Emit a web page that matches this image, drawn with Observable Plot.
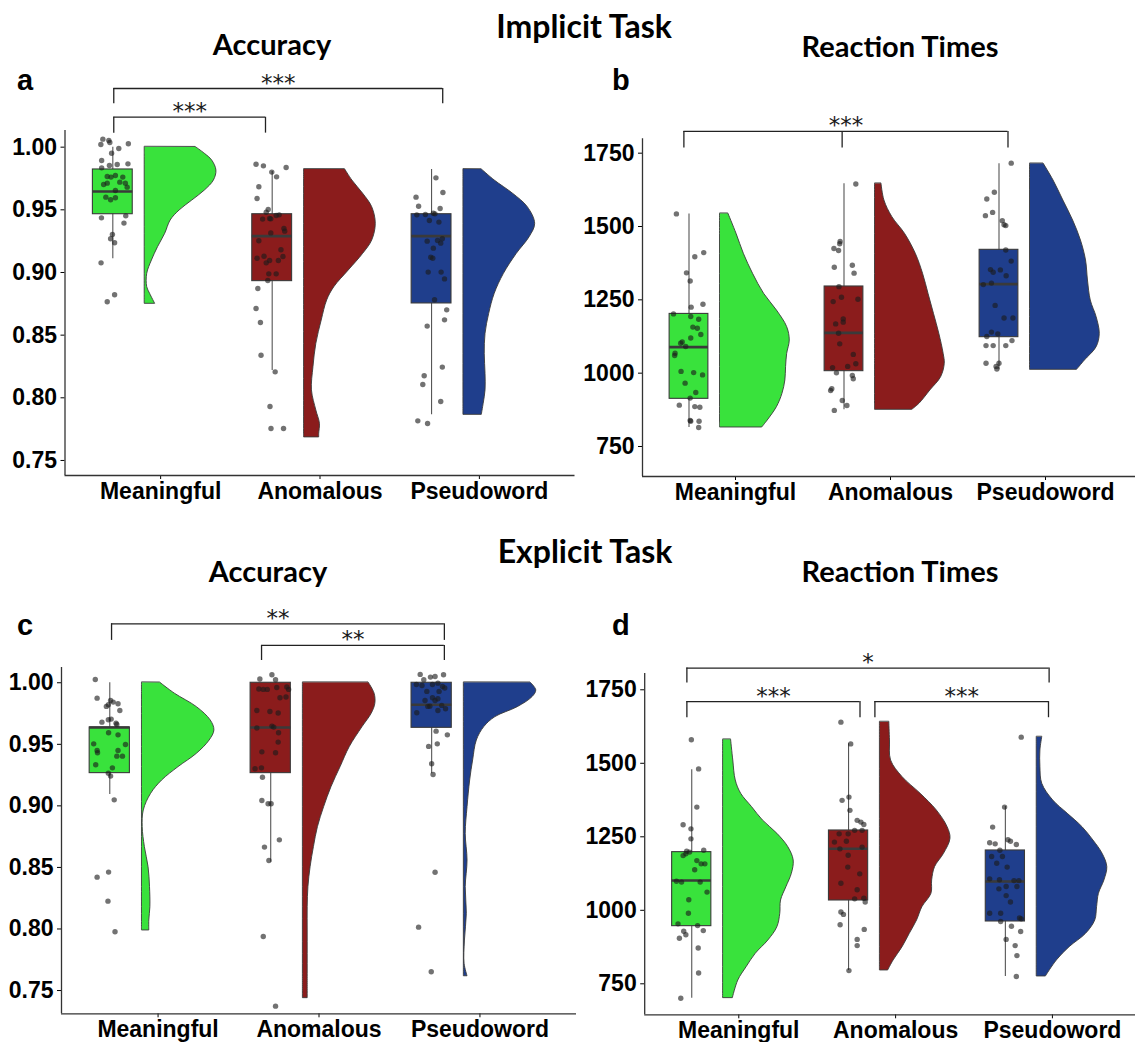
<!DOCTYPE html>
<html><head><meta charset="utf-8">
<script src="https://cdn.jsdelivr.net/npm/d3@7"></script>
<script src="https://cdn.jsdelivr.net/npm/@observablehq/plot@0.6"></script>
<style>
html,body{margin:0;padding:0;background:#fff;overflow:hidden;width:1135px;height:1042px}
#fig{position:relative;width:1135px;height:1042px;overflow:hidden;background:#fff}
.p{position:absolute}
</style></head>
<body><div id="fig"></div>
<script>
// ---------- categories & colours ----------
const cats = ["Meaningful", "Anomalous", "Pseudoword"];
const fills = ["#39e23c", "#8b1c1c", "#1f3e8c"];
const accTicks = [0.75, 0.80, 0.85, 0.90, 0.95, 1.00];
const rtTicks = [750, 1000, 1250, 1500, 1750];

// ---------- panel a: implicit task, accuracy ----------  points: [value, jitter]
const impAccM = [[1.0064,-0.5],[1.0053,-0.2],[1.0037,-0.15],[1.0021,-0.6],[1.0027,0.78],[0.9989,0.3],[0.9952,-0.06],[0.9894,-0.56],[0.9862,0.22],[0.9867,0.76],[0.9835,-0.56],[0.9854,-0.17],[0.9774,0.13],[0.9766,-0.28],[0.9761,-0.09],[0.9761,0.5],[0.9713,-0.28],[0.9702,-0.46],[0.9721,0.35],[0.9713,0.63],[0.9681,0.72],[0.9654,0.13],[0.9601,-0.35],[0.9580,-0.11],[0.9596,0.13],[0.9436,-0.57],[0.9452,0.65],[0.9394,0.56],[0.9303,-0.02],[0.9269,-0.11],[0.9237,0.09],[0.9077,-0.59],[0.8822,0.09],[0.8766,-0.28]];
const impAccA = [[0.9864,-0.81],[0.9851,-0.44],[0.9838,0.7],[0.9801,-0.02],[0.9763,0.22],[0.9684,-0.67],[0.9590,-0.76],[0.9503,-0.2],[0.9481,-0.3],[0.9460,0.35],[0.9455,0.2],[0.9431,-0.13],[0.9426,-0.48],[0.9428,-0.07],[0.9351,0.59],[0.9330,0.63],[0.9316,-0.07],[0.9253,-0.67],[0.9181,0.44],[0.9130,-0.41],[0.9114,-0.76],[0.9096,-0.13],[0.9096,0.31],[0.9077,-0.3],[0.9128,0.54],[0.8989,-0.17],[0.8989,0.2],[0.8936,-0.22],[0.8872,-0.72],[0.8713,-0.81],[0.8601,-0.59],[0.8340,-0.56],[0.8207,0.15],[0.7931,-0.11],[0.7755,-0.06],[0.7755,0.57]];
const impAccP = [[0.9755,0.22],[0.9601,-0.78],[0.9529,-0.65],[0.9638,0.57],[0.9460,-0.74],[0.9511,0.43],[0.9473,0.09],[0.9463,-0.31],[0.9415,-0.11],[0.9402,0.37],[0.9468,0.17],[0.9250,-0.22],[0.9255,0.3],[0.9234,0.46],[0.9269,0.54],[0.9194,0.09],[0.9122,-0.04],[0.9114,0.06],[0.9003,-0.17],[0.9003,0.48],[0.8949,0.65],[0.8782,0.15],[0.8702,0.76],[0.8622,0.65],[0.8572,-0.22],[0.8245,0.54],[0.8176,-0.37],[0.8106,-0.44],[0.7971,0.46],[0.7816,-0.69],[0.7795,-0.2]];
// box stats: [lower whisker, q1, median, q3, upper whisker]
const impAccBox = [[0.911,0.9465,0.9646,0.9822,1.0],[0.8218,0.8931,0.929,0.9465,0.9806],[0.7864,0.8753,0.929,0.9465,0.9822]];
// half-violin profiles: [value, relative density]
const impAccVM = [[1.0,0.714],[0.9947,0.839],[0.9894,0.94],[0.9814,1.0],[0.9734,0.965],[0.9654,0.839],[0.9574,0.663],[0.9495,0.487],[0.9415,0.362],[0.9309,0.286],[0.9202,0.186],[0.9096,0.101],[0.8989,0.035],[0.8883,0.035],[0.8830,0.075],[0.875,0.146]];
const impAccVA = [[0.9822,0.573],[0.9734,0.673],[0.9628,0.824],[0.9521,0.95],[0.9388,1.0],[0.9255,0.95],[0.9149,0.824],[0.9016,0.623],[0.8883,0.422],[0.8777,0.322],[0.8617,0.246],[0.8431,0.171],[0.8245,0.131],[0.8059,0.11],[0.7899,0.171],[0.7793,0.221],[0.7713,0.211],[0.7684,0.211]];
const impAccVP = [[0.9822,0.256],[0.9734,0.436],[0.9628,0.692],[0.9521,0.897],[0.9388,1.0],[0.9282,0.923],[0.9149,0.744],[0.8989,0.564],[0.8830,0.436],[0.8670,0.359],[0.8511,0.308],[0.8351,0.297],[0.8191,0.308],[0.8059,0.308],[0.7952,0.282],[0.7864,0.256]];
const impAccSig = [{legs:[0.706,1.658], y:1.0239, tip:1.0112, label:"***"},{legs:[0.706,2.77], y:1.0468, tip:1.0346, label:"***"}];

// ---------- panel b: implicit task, reaction times ----------
const impRtM = [[1543,-0.65],[1411,0.76],[1397,0.3],[1342,-0.13],[1314,0.06],[1235,0.72],[1225,0.11],[1202,-0.8],[1193,0.09],[1184,0.5],[1157,0.2],[1153,0.43],[1106,-0.35],[1102,-0.43],[1091,-0.17],[1132,0.61],[1120,0.09],[1068,-0.72],[1060,-0.74],[1006,-0.41],[1002,0.24],[994,0.7],[966,-0.2],[934,0.35],[915,0.06],[891,-0.5],[886,0.3],[884,0.56],[839,0.06],[836,0.09],[836,0.52],[815,0.5]];
const impRtA = [[1645,0.61],[1449,-0.2],[1441,-0.22],[1425,-0.52],[1418,-0.28],[1368,0.43],[1361,-0.5],[1341,0.52],[1295,-0.26],[1244,-0.56],[1259,-0.13],[1252,0.72],[1185,-0.04],[1174,-0.04],[1168,-0.43],[1136,-0.28],[1100,-0.22],[1064,0.48],[1019,-0.59],[1032,0.61],[1001,-0.39],[1023,0.19],[992,0.43],[981,0.48],[941,-0.69],[947,-0.63],[907,-0.09],[890,0.15],[873,-0.5]];
const impRtP = [[1716,0.63],[1617,-0.24],[1594,-0.63],[1548,-0.33],[1537,-0.7],[1520,0.17],[1506,0.26],[1503,0.35],[1420,0.35],[1382,0.63],[1353,-0.44],[1352,0.07],[1344,-0.3],[1332,0.37],[1307,-0.39],[1302,-0.81],[1231,-0.2],[1188,0.26],[1188,0.72],[1140,-0.39],[1125,-0.63],[1134,-0.06],[1111,0.67],[1094,-0.67],[1094,-0.3],[1094,0.35],[1034,-0.67],[1034,0],[1023,-0.15],[1014,-0.11]];
const impRtBox = [[815,912.5,1088.6,1202,1543],[875,1006.8,1137.5,1295.5,1645.5],[1011.4,1122.7,1303.4,1420.5,1713.6]];
const impRtVM = [[1543.2,0.121],[1475,0.237],[1406.8,0.342],[1338.6,0.474],[1270.5,0.632],[1213.6,0.816],[1156.8,0.963],[1111.4,1.0],[1065.9,0.963],[1020.5,0.947],[975,0.937],[929.5,0.895],[884.1,0.816],[838.6,0.684],[814.8,0.605]];
const impRtVA = [[1645.5,0.093],[1588.6,0.135],[1531.8,0.249],[1475,0.43],[1406.8,0.585],[1338.6,0.689],[1270.5,0.767],[1202.3,0.845],[1134.1,0.922],[1065.9,0.984],[1031.8,1.0],[986.4,0.948],[940.9,0.793],[895.5,0.637],[875,0.534]];
const impRtVP = [[1713.6,0.197],[1656.8,0.337],[1588.6,0.478],[1520.5,0.618],[1452.3,0.73],[1384.1,0.803],[1315.9,0.831],[1247.7,0.871],[1190.9,0.955],[1134.1,1.0],[1088.6,0.955],[1043.2,0.787],[1011.4,0.674]];
const impRtSig = [{legs:[0.667,1.688,2.758], y:1824, tip:1768, label:"***"}];

// ---------- panel c: explicit task, accuracy ----------
const expAccM = [[1.0027,-0.72],[0.9875,-0.63],[0.9856,0.04],[0.9829,0.41],[0.9843,0.17],[0.9680,-0.39],[0.9672,0.31],[0.9705,0.07],[0.9699,-0.07],[0.9775,0.5],[0.9821,-0.07],[0.9808,-0.17],[0.9661,0.35],[0.9594,-0.06],[0.9577,0.41],[0.9504,-0.8],[0.9499,0.78],[0.9450,-0.63],[0.9431,-0.61],[0.9450,0.41],[0.9404,0.35],[0.9404,0.63],[0.9334,-0.7],[0.9309,0.13],[0.9266,-0.07],[0.9242,0.04],[0.9049,0.22],[0.8421,-0.63],[0.8462,-0.06],[0.8226,-0.09],[0.7977,0.26]];
const expAccA = [[1.0030,-0.54],[1.0065,0.06],[1.0024,0.24],[0.9949,-0.59],[0.9946,-0.37],[0.9946,-0.17],[0.9962,0.3],[0.9965,0.8],[0.9946,0.89],[0.9878,0.46],[0.9884,0.76],[0.9775,-0.69],[0.9767,-0.04],[0.9754,0.37],[0.9648,0.06],[0.9632,-0.69],[0.9640,0.15],[0.9594,0.39],[0.9518,0.37],[0.9439,-0.44],[0.9431,0.24],[0.9301,-0.78],[0.9309,-0.46],[0.9233,-0.41],[0.9044,-0.44],[0.9017,-0.13],[0.9017,0.02],[0.8724,0.43],[0.8665,-0.31],[0.8556,-0.09],[0.7939,-0.37],[0.7373,0.24]];
const expAccP = [[1.0068,-0.57],[1.0024,-0.39],[1.0046,-0.06],[1.0051,0.17],[1.0065,0.59],[0.9986,-0.76],[0.9978,-0.48],[0.9986,0.04],[0.9997,0.31],[0.9970,0.54],[0.9957,0.65],[0.9930,-0.24],[0.9930,0.37],[0.9878,0.04],[0.9856,-0.33],[0.9856,0.17],[0.9870,0.31],[0.9810,-0.09],[0.9816,0.5],[0.9756,-0.74],[0.9808,-0.19],[0.9775,0.31],[0.9789,0.69],[0.9607,0.22],[0.9577,0.78],[0.9504,0.28],[0.9483,-0.15],[0.9342,0],[0.9255,0.07],[0.8461,0.17],[0.8015,-0.65],[0.7652,-0.02]];
const expAccBox = [[0.9093,0.9266,0.9637,0.9637,1.0],[0.8543,0.9266,0.9637,1.0,1.0],[0.926,0.9634,0.9821,1.0,1.0]];
const expAccVM = [[1.0,0.253],[0.9911,0.455],[0.9802,0.758],[0.9694,0.949],[0.9613,1.0],[0.9531,0.934],[0.9423,0.758],[0.9315,0.505],[0.9206,0.278],[0.9098,0.126],[0.8963,0.025],[0.8827,0.01],[0.8665,0.04],[0.8502,0.091],[0.834,0.111],[0.8177,0.116],[0.8069,0.101],[0.7988,0.101]];
const expAccVA = [[1.0,0.909],[0.9911,0.99],[0.9829,1.0],[0.9748,0.949],[0.964,0.823],[0.9477,0.646],[0.9315,0.52],[0.9152,0.394],[0.899,0.293],[0.8827,0.207],[0.8665,0.152],[0.8502,0.106],[0.834,0.076],[0.8177,0.066],[0.7988,0.066],[0.7798,0.066],[0.7635,0.066],[0.7438,0.066]];
const expAccVP = [[1.0,0.923],[0.9938,1.0],[0.9884,0.949],[0.9802,0.744],[0.9721,0.436],[0.964,0.282],[0.9531,0.179],[0.9369,0.128],[0.9206,0.087],[0.899,0.051],[0.8773,0.026],[0.8556,0.051],[0.834,0.026],[0.8123,0.041],[0.7906,0.015],[0.7717,0.01],[0.7616,0.051]];
const expAccSig = [{legs:[0.711,2.779], y:1.0479, tip:1.0344, label:"**"},{legs:[1.643,2.779], y:1.0303, tip:1.0181, label:"**"}];

// ---------- panel d: explicit task, reaction times ----------
const expRtM = [[1580,-0.02],[1481,0.35],[1351,0.26],[1291,-0.44],[1277,-0.04],[1243,-0.04],[1201,-0.26],[1192,-0.3],[1204,0.61],[1198,-0.11],[1186,-0.44],[1169,0.26],[1138,0.15],[1158,0.67],[1158,0.48],[1099,-0.78],[1096,-0.52],[1096,0.43],[1062,0.78],[1036,-0.15],[990,-0.17],[954,-0.7],[948,0.3],[929,-0.41],[917,-0.3],[931,0.59],[905,-0.63],[872,0.33],[787,0.35],[701,-0.56]];
const expRtA = [[1640,-0.39],[1566,0.11],[1374,-0.33],[1385,0.02],[1340,0.07],[1306,0.44],[1300,0.63],[1292,0.78],[1272,0.69],[1272,0.31],[1260,-0.48],[1232,-0.72],[1260,-0.02],[1235,-0.11],[1209,-0.44],[1215,0.69],[1187,-0.02],[1147,-0.04],[1124,0.57],[1092,-0.39],[1070,0.44],[1039,0.31],[1041,0.78],[1028,0.85],[994,-0.39],[986,-0.26],[951,-0.43],[935,0.8],[901,0.44],[880,0.44],[795,0.02]];
const expRtP = [[1589,0.81],[1351,-0.04],[1283,-0.65],[1230,-0.8],[1226,-0.52],[1240,0.13],[1235,0.26],[1224,0.56],[1204,-0.28],[1183,-0.7],[1183,-0.15],[1160,-0.44],[1147,0.09],[1107,-0.8],[1104,-0.3],[1101,0.44],[1101,0.69],[1081,0.04],[1073,-0.33],[1081,0.59],[1050,0.04],[1028,0.26],[990,-0.24],[990,-0.8],[974,0.72],[971,0.81],[962,-0.24],[946,0.31],[928,0.78],[901,0.04],[880,0.5],[846,0.59],[775,0.56]];
const expRtBox = [[701.3,946.1,1101.5,1197.8,1477.9],[795.4,1033.4,1209.2,1271.5,1566.3],[775,962,1098,1203.5,1353.2]];
const expRtVM = [[1579.9,0.113],[1509.6,0.144],[1441.6,0.179],[1396.3,0.256],[1350.9,0.41],[1305.6,0.564],[1260.2,0.769],[1214.9,0.923],[1169.5,1.0],[1124.2,0.974],[1078.8,0.897],[1033.4,0.821],[988.1,0.81],[942.7,0.769],[897.4,0.641],[852,0.462],[806.7,0.333],[761.3,0.215],[701.3,0.138]];
const expRtVA = [[1640,0.133],[1577.7,0.143],[1509.6,0.158],[1452.9,0.321],[1396.3,0.577],[1339.6,0.806],[1282.9,0.959],[1243.2,1.0],[1192.2,0.908],[1146.8,0.781],[1101.5,0.74],[1056.1,0.73],[1010.8,0.602],[965.4,0.526],[920.1,0.423],[874.7,0.321],[829.4,0.194],[795.4,0.117]];
const expRtVP = [[1589,0.078],[1543.6,0.052],[1486.9,0.052],[1430.3,0.078],[1373.6,0.233],[1328.2,0.44],[1282.9,0.648],[1237.5,0.803],[1192.2,0.933],[1146.8,1.0],[1101.5,0.959],[1056.1,0.881],[1010.8,0.855],[965.4,0.829],[920.1,0.699],[874.7,0.466],[829.4,0.285],[775,0.13]];
const expRtSig = [{legs:[0.669,2.979], y:1823.7, tip:1772.7, label:"*"},{legs:[0.669,1.773], y:1710, tip:1655, label:"***"},{legs:[1.868,2.975], y:1710, tip:1655, label:"***"}];

// ---------- drawing ----------
const BOX_OFF = -0.3, BOX_HALF = 0.125, VIO_OFF = -0.1, VIO_W = 0.45;
const fig = document.getElementById("fig");

function panel(cfg) {
  const marks = [];
  cfg.violins.forEach((v, i) => {
    const base = i + 1 + VIO_OFF;
    marks.push(Plot.areaX(v, {y: d => d[0], x1: () => base, x2: d => base + d[1] * VIO_W,
      fill: fills[i], stroke: "#3a3a3a", strokeWidth: 0.9, curve: "catmull-rom"}));
  });
  marks.push(Plot.ruleX(cfg.box, {x: (d, i) => i + 1 + BOX_OFF, y1: d => d[0], y2: d => d[4], stroke: "#555", strokeWidth: 1.1}));
  marks.push(Plot.rect(cfg.box, {x1: (d, i) => i + 1 + BOX_OFF - BOX_HALF, x2: (d, i) => i + 1 + BOX_OFF + BOX_HALF,
    y1: d => d[1], y2: d => d[3], fill: (d, i) => fills[i], stroke: "#3a3a3a", strokeWidth: 1.1}));
  marks.push(Plot.ruleY(cfg.box, {y: d => d[2], x1: (d, i) => i + 1 + BOX_OFF - BOX_HALF, x2: (d, i) => i + 1 + BOX_OFF + BOX_HALF,
    stroke: "#3a3a3a", strokeWidth: 2.6}));
  cfg.points.forEach((p, i) => {
    marks.push(Plot.dot(p, {x: d => i + 1 + BOX_OFF + d[1] * BOX_HALF, y: d => d[0], r: 2.7, fill: "#1b1b1b", fillOpacity: 0.62, stroke: "none"}));
  });
  // significance brackets
  const legs = cfg.sig.flatMap(b => b.legs.map(x => ({x, y1: b.tip, y2: b.y})));
  marks.push(Plot.ruleY(cfg.sig, {y: d => d.y, x1: d => d3.min(d.legs), x2: d => d3.max(d.legs), stroke: "#222", strokeWidth: 1.3}));
  marks.push(Plot.ruleX(legs, {x: "x", y1: "y1", y2: "y2", stroke: "#222", strokeWidth: 1.3}));
  marks.push(Plot.text(cfg.sig, {x: d => (d3.min(d.legs) + d3.max(d.legs)) / 2, y: d => d.y, text: d => d.label,
    lineAnchor: "bottom", dy: 2, fontFamily: "DejaVu Sans", fontSize: 23, fill: "#1a1a1a"}));
  // axes
  marks.push(Plot.axisY({ticks: cfg.yTicks, tickFormat: cfg.yFmt, tickSize: 4, tickPadding: 4, fontSize: 23, fontWeight: "bold", label: null}));
  marks.push(Plot.axisX({ticks: [1, 2, 3], tickFormat: d => cats[d - 1], tickSize: 4, tickPadding: 3, fontSize: 23, fontWeight: "bold", label: null}));
  marks.push(Plot.ruleX([0.4], {stroke: "#333", strokeWidth: 1.3}));
  marks.push(Plot.ruleY([cfg.yDomain[0]], {stroke: "#333", strokeWidth: 1.3}));

  const svg = Plot.plot({
    width: cfg.width, height: cfg.height,
    marginLeft: cfg.mL, marginRight: cfg.mR, marginTop: cfg.mT, marginBottom: cfg.mB,
    x: {domain: [0.4, 3.6]},
    y: {domain: cfg.yDomain},
    color: {type: "identity"},
    style: {fontFamily: "'Liberation Sans', Arial, sans-serif", color: "black", background: "transparent", overflow: "visible"},
    marks
  });
  svg.classList.add("p");
  svg.style.left = cfg.left + "px";
  svg.style.top = cfg.top + "px";
  fig.appendChild(svg);
}

panel({left: 0, top: 0, width: 575, height: 510, mL: 64.5, mR: 0.5, mT: 130, mB: 35,
  yDomain: [0.738, 1.0133], yTicks: accTicks, yFmt: d3.format(".2f"),
  points: [impAccM, impAccA, impAccP], box: impAccBox, violins: [impAccVM, impAccVA, impAccVP], sig: impAccSig});
panel({left: 580, top: 0, width: 558, height: 510, mL: 62, mR: 0, mT: 138.3, mB: 34,
  yDomain: [647.7, 1799], yTicks: rtTicks, yFmt: d3.format("d"),
  points: [impRtM, impRtA, impRtP], box: impRtBox, violins: [impRtVM, impRtVA, impRtVP], sig: impRtSig});
panel({left: 0, top: 520, width: 576, height: 522, mL: 61, mR: 0, mT: 147, mB: 28.7,
  yDomain: [0.7311, 1.0124], yTicks: accTicks, yFmt: d3.format(".2f"),
  points: [expAccM, expAccA, expAccP], box: expAccBox, violins: [expAccVM, expAccVA, expAccVP], sig: expAccSig});
panel({left: 580, top: 520, width: 566, height: 522, mL: 64.2, mR: 0, mT: 153, mB: 27.7,
  yDomain: [644.6, 1805.4], yTicks: rtTicks, yFmt: d3.format("d"),
  points: [expRtM, expRtA, expRtP], box: expRtBox, violins: [expRtVM, expRtVA, expRtVP], sig: expRtSig});

// ---------- titles and panel letters ----------
const titles = [
  {text: "Implicit Task", x: 584, y: 38, size: 32, font: "Lato"},
  {text: "Accuracy", x: 272, y: 55, size: 29, font: "Lato"},
  {text: "Reaction Times", x: 900, y: 57, size: 29, font: "Lato"},
  {text: "Explicit Task", x: 585, y: 563, size: 32, font: "Lato"},
  {text: "Accuracy", x: 268, y: 582, size: 29, font: "Lato"},
  {text: "Reaction Times", x: 900, y: 582, size: 29, font: "Lato"}
];
const letters = [
  {text: "a", x: 17, y: 90}, {text: "b", x: 612, y: 90},
  {text: "c", x: 17, y: 635}, {text: "d", x: 612, y: 635}
];
const over = d3.select(fig).append("svg").attr("class", "p")
  .attr("width", 1135).attr("height", 1042).style("left", "0px").style("top", "0px")
  .style("pointer-events", "none");
over.selectAll("text.title").data(titles).join("text").attr("class", "title")
  .attr("x", d => d.x).attr("y", d => d.y).attr("text-anchor", "middle")
  .attr("font-family", d => d.font + ", sans-serif").attr("font-weight", "bold")
  .attr("font-size", d => d.size).attr("fill", "black").text(d => d.text);
over.selectAll("text.letter").data(letters).join("text").attr("class", "letter")
  .attr("x", d => d.x).attr("y", d => d.y)
  .attr("font-family", "'Liberation Sans', Arial, sans-serif").attr("font-weight", "bold")
  .attr("font-size", 29).attr("fill", "black").text(d => d.text);
</script>
</body></html>
